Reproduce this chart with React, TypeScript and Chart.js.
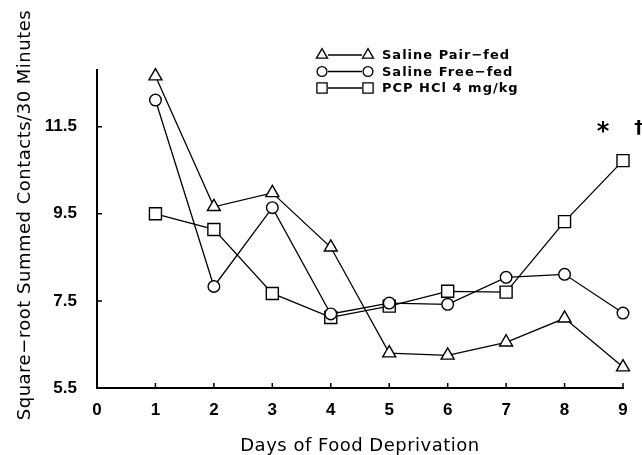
import React, { useEffect, useRef } from "react";
import { Chart, registerables } from "chart.js";
import { drawPoint } from "chart.js/helpers";

Chart.register(...registerables);

const days = [1, 2, 3, 4, 5, 6, 7, 8, 9];
const pairFed = [12.66, 9.66, 9.98, 8.73, 6.3, 6.25, 6.55, 7.1, 5.98];
const freeFed = [12.11, 7.83, 9.64, 7.2, 7.45, 7.42, 8.04, 8.11, 7.22];
const pcp = [9.5, 9.14, 7.67, 7.12, 7.38, 7.72, 7.7, 9.32, 10.72];

const seriesLabels = ["Saline Pair\u2212fed", "Saline Free\u2212fed", "PCP HCl 4 mg/kg"];
const xTicks = [0, 1, 2, 3, 4, 5, 6, 7, 8, 9];
const yTicks = [5.5, 7.5, 9.5, 11.5];
const yTickLabels = ["5.5", "7.5", "9.5", "11.5"];
const xTitle = "Days of Food Deprivation";
const yTitle = "Square\u2212root Summed Contacts/30 Minutes";
const marks = ["*", "\u2020"];
const markX = [8.66, 9.27];
const markY = [11.5, 11.5];

const toPoints = (vals: number[]) => vals.map((v, i) => ({ x: days[i], y: v }));

const decorPlugin = {
  id: "decor",
  afterDraw(chart: any) {
    const ctx = chart.ctx;
    const xs = chart.scales.x;
    const ys = chart.scales.y;
    const area = chart.chartArea;
    ctx.save();
    // inward tick marks
    ctx.strokeStyle = "#000";
    ctx.lineWidth = 1.5;
    ctx.beginPath();
    xs.ticks.forEach((t: any) => {
      if (t.value === xs.min) return;
      const px = xs.getPixelForValue(t.value);
      ctx.moveTo(px, area.bottom);
      ctx.lineTo(px, area.bottom - 5);
    });
    ys.ticks.forEach((t: any) => {
      if (t.value === ys.min) return;
      const py = ys.getPixelForValue(t.value);
      ctx.moveTo(area.left, py);
      ctx.lineTo(area.left + 5, py);
    });
    ctx.stroke();

    // axis titles
    ctx.fillStyle = "#000";
    ctx.font = "18px 'DejaVu Sans'";
    (ctx as any).letterSpacing = "0.5px";
    ctx.textAlign = "center";
    ctx.textBaseline = "alphabetic";
    ctx.fillText(xTitle, (area.left + area.right) / 2, 451);
    ctx.save();
    ctx.translate(30, 215);
    ctx.rotate(-Math.PI / 2);
    ctx.fillText(yTitle, 0, 0);
    ctx.restore();

    // legend
    ctx.font = "bold 13px 'DejaVu Sans'";
    (ctx as any).letterSpacing = "1px";
    ctx.textAlign = "left";
    ctx.textBaseline = "middle";
    chart.data.datasets.forEach((ds: any, i: number) => {
      const y = 55 + i * 16.5;
      const opts = {
        pointStyle: ds.pointStyle,
        radius: ds.pointRadius * 0.85,
        borderWidth: 1.3,
      };
      ctx.fillStyle = "#fff";
      ctx.strokeStyle = "#000";
      ctx.lineWidth = 1.3;
      drawPoint(ctx, opts as any, 322, y);
      drawPoint(ctx, opts as any, 368, y);
      ctx.beginPath();
      ctx.moveTo(328, y);
      ctx.lineTo(362, y);
      ctx.stroke();
      ctx.fillStyle = "#000";
      ctx.fillText(ds.label, 382, y + 1);
    });

    // significance marks
    (ctx as any).letterSpacing = "0px";
    ctx.textAlign = "center";
    ctx.textBaseline = "middle";
    ctx.font = "bold 24px 'DejaVu Sans'";
    ctx.fillText(marks[0], xs.getPixelForValue(markX[0]), ys.getPixelForValue(markY[0]) + 6);
    ctx.font = "bold 18px 'DejaVu Sans'";
    ctx.fillText(marks[1], xs.getPixelForValue(markX[1]), ys.getPixelForValue(markY[1]) + 2);
    ctx.restore();
  },
};

export default function App() {
  const ref = useRef<HTMLCanvasElement | null>(null);
  useEffect(() => {
    document.body.style.margin = "0";
    const canvas = ref.current!;
    const mk = (label: string, data: number[], style: string, r: number) => ({
      label,
      data: toPoints(data),
      borderColor: "#000",
      borderWidth: 1.3,
      backgroundColor: "#fff",
      pointStyle: style,
      pointRadius: r,
      pointBackgroundColor: "#fff",
      pointBorderColor: "#000",
      pointBorderWidth: 1.4,
      clip: false,
      tension: 0,
    });
    const chart = new Chart(canvas, {
      type: "line",
      data: {
        datasets: [
          mk(seriesLabels[0], pairFed, "triangle", 7.5),
          mk(seriesLabels[1], freeFed, "circle", 5.8),
          mk(seriesLabels[2], pcp, "rect", 8.5),
        ],
      },
      plugins: [decorPlugin],
      options: {
        responsive: false,
        animation: false,
        devicePixelRatio: 1,
        layout: { padding: { left: 0, top: 70, right: 19, bottom: 0 } },
        plugins: {
          legend: { display: false },
          tooltip: { enabled: false },
          title: { display: false },
        },
        scales: {
          x: {
            type: "linear",
            min: 0,
            max: 9,
            grid: { display: true, drawOnChartArea: false, drawTicks: false },
            border: { display: true, color: "#000", width: 2 },
            afterBuildTicks: (s: any) => {
              s.ticks = xTicks.map((v) => ({ value: v }));
            },
            afterFit: (s: any) => {
              s.height = 67;
              s.paddingLeft = 0;
              s.paddingRight = 0;
            },
            ticks: {
              color: "#000",
              padding: 12,
              autoSkip: false,
              maxRotation: 0,
              font: { family: "'Liberation Sans'", size: 17, weight: "bold" },
              callback: (v: any) => String(v),
            },
          },
          y: {
            type: "linear",
            min: 5.5,
            max: 12.8,
            grid: { display: true, drawOnChartArea: false, drawTicks: false },
            border: { display: true, color: "#000", width: 2 },
            afterBuildTicks: (s: any) => {
              s.ticks = yTicks.map((v) => ({ value: v }));
            },
            afterFit: (s: any) => {
              s.width = 97;
              s.paddingTop = 0;
              s.paddingBottom = 0;
            },
            ticks: {
              color: "#000",
              padding: 20,
              autoSkip: false,
              font: { family: "'Liberation Sans'", size: 17, weight: "bold" },
              callback: (v: any) => {
                const i = yTicks.indexOf(v);
                return i >= 0 ? yTickLabels[i] : "";
              },
            },
          },
        },
      },
    } as any);
    return () => chart.destroy();
  }, []);
  return (
    <div style={{ position: "absolute", left: 0, top: 0, width: 642, height: 455, background: "#fff" }}>
      <canvas ref={ref} width={642} height={455} />
    </div>
  );
}
